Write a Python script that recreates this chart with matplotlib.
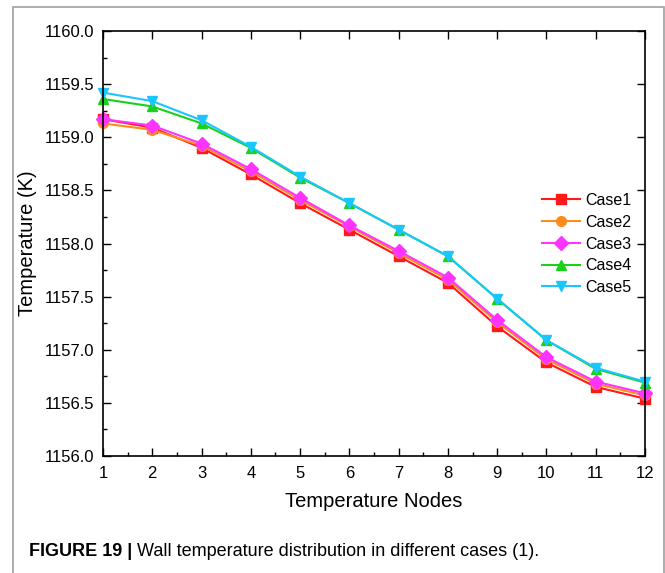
import matplotlib
matplotlib.use("Agg")
import matplotlib.pyplot as plt
from matplotlib.ticker import MultipleLocator, FormatStrFormatter
from matplotlib.patches import Rectangle

plt.rcParams['font.family'] = ['Liberation Sans', 'DejaVu Sans']

nodes = [1, 2, 3, 4, 5, 6, 7, 8, 9, 10, 11, 12]
case1 = [1159.17, 1159.09, 1158.90, 1158.65, 1158.38, 1158.13, 1157.88, 1157.63, 1157.22, 1156.88, 1156.65, 1156.54]
case2 = [1159.13, 1159.07, 1158.92, 1158.68, 1158.41, 1158.16, 1157.91, 1157.66, 1157.26, 1156.91, 1156.68, 1156.57]
case3 = [1159.17, 1159.11, 1158.94, 1158.70, 1158.43, 1158.17, 1157.93, 1157.68, 1157.28, 1156.93, 1156.70, 1156.59]
case4 = [1159.36, 1159.29, 1159.13, 1158.90, 1158.62, 1158.38, 1158.13, 1157.88, 1157.48, 1157.09, 1156.82, 1156.69]
case5 = [1159.42, 1159.34, 1159.16, 1158.91, 1158.63, 1158.38, 1158.13, 1157.88, 1157.48, 1157.09, 1156.83, 1156.70]

series = [
    ("Case1", case1, "#ff1a1a", "s"),
    ("Case2", case2, "#ff8c1a", "o"),
    ("Case3", case3, "#ff33ff", "D"),
    ("Case4", case4, "#1ad11a", "^"),
    ("Case5", case5, "#1ac6ff", "v"),
]

W, H = 665, 573
fig = plt.figure(figsize=(W / 100, H / 100), dpi=100)
fig.patches.append(Rectangle((13 / W, -0.01), (664 - 13) / W, 1 - 7 / H + 0.01,
                             transform=fig.transFigure, fill=False, edgecolor="#a0a0a0", lw=1.2))

L, R, T, B = 103, 645, 31, 456
ax = fig.add_axes([L / W, 1 - B / H, (R - L) / W, (B - T) / H])
for name, vals, col, mk in series:
    ax.plot(nodes, vals, color=col, marker=mk, markersize=7, lw=1.5, label=name, clip_on=False)

ax.set_xlim(1, 12)
ax.set_ylim(1156.0, 1160.0)
ax.xaxis.set_major_locator(MultipleLocator(1))
ax.xaxis.set_minor_locator(MultipleLocator(0.5))
ax.yaxis.set_major_locator(MultipleLocator(0.5))
ax.yaxis.set_minor_locator(MultipleLocator(0.25))
ax.yaxis.set_major_formatter(FormatStrFormatter('%.1f'))
ax.tick_params(which='both', direction='in', top=True, right=True, labelsize=12)
ax.tick_params(which='major', length=6, width=1)
ax.tick_params(which='minor', length=3, width=1)
ax.tick_params(axis='x', which='major', pad=7)
ax.tick_params(axis='y', which='major', pad=6)
ax.tick_params(axis='x', which='minor', top=False)
ax.tick_params(axis='y', which='minor', right=False)
for s in ax.spines.values():
    s.set_linewidth(1.2)

ax.set_xlabel("Temperature Nodes", fontsize=14.5, labelpad=8)
ax.set_ylabel("Temperature (K)", fontsize=14.5, labelpad=6)

ax.legend(loc='center left', bbox_to_anchor=((542 - L) / (R - L), (B - 244) / (B - T)), frameon=False,
          fontsize=11.5, handlelength=2.4, labelspacing=0.42, handletextpad=0.3,
          borderaxespad=0, borderpad=0)

t = fig.text(29 / W, 1 - 552 / H, "FIGURE 19 | ", fontsize=13, fontweight='bold', va='center', ha='left')
fig.canvas.draw()
bb = t.get_window_extent()
fig.text(bb.x1 / fig.bbox.width, 1 - 552 / H, "Wall temperature distribution in different cases (1).",
         fontsize=13, va='center', ha='left')

fig.savefig("out.png", dpi=100)
